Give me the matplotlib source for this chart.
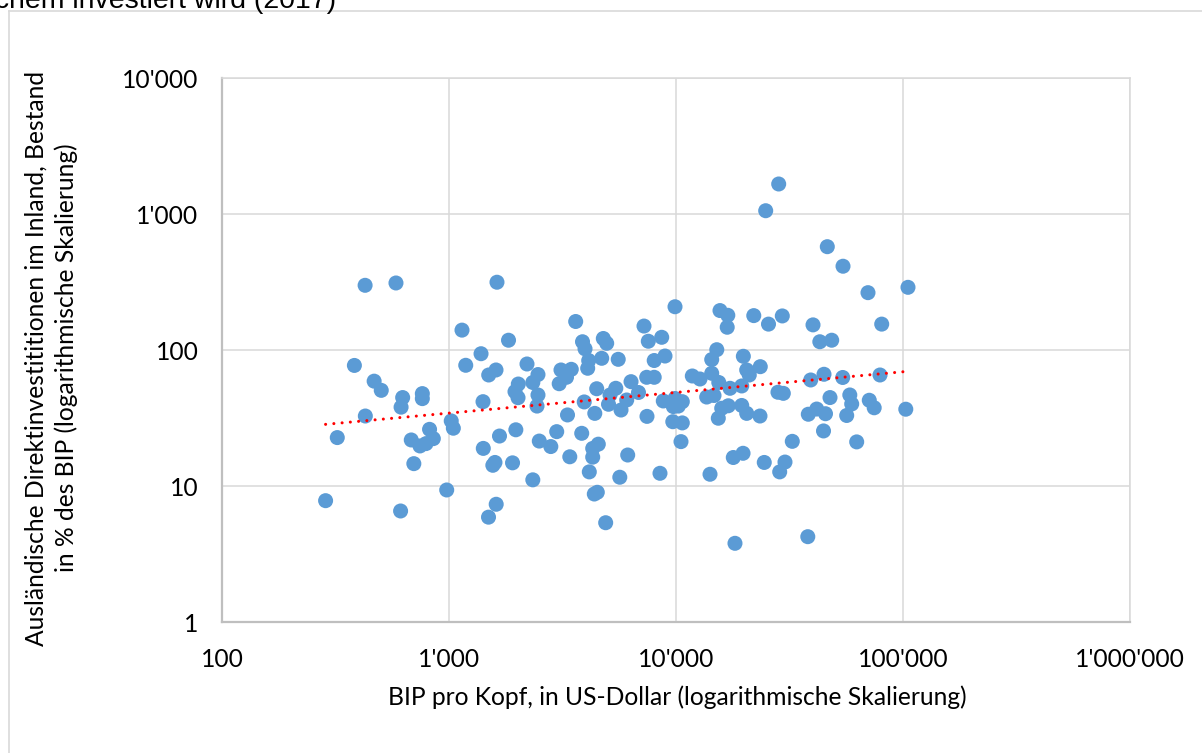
import matplotlib
matplotlib.use("Agg")
import matplotlib.pyplot as plt
from matplotlib.lines import Line2D
from matplotlib.ticker import NullLocator

# BIP pro Kopf (US-Dollar) und Bestand ausl. Direktinvestitionen (% des BIP), 2017
gdp_pc = [
    286, 322, 383, 427, 428, 468, 503, 584, 625, 615,
    763, 763, 682, 745, 792, 821, 853, 700, 612, 977,
    1023, 1045, 1141, 1185, 1384, 1496, 1611, 1412, 1416, 1560,
    1594, 1627, 1669, 1614, 1493, 1829, 2206, 2466, 2340, 2020,
    1953, 2014, 2466, 2442, 1970, 1905, 2340, 2499, 2809, 2982,
    3114, 3457, 3293, 3058, 3327, 3405, 3615, 3874, 3974, 4125,
    4083, 3942, 4388, 3843, 4296, 4547, 4296, 4150, 4366, 4501,
    4900, 4707, 4784, 4951, 4474, 5565, 5043, 5121, 5430, 5725,
    6127, 5655, 6337, 6836, 6066, 7228, 7551, 8650, 8017, 8944,
    7429, 8017, 7451, 8501, 9900, 8790, 9900, 10660, 9730, 10235,
    9680, 10660, 10520, 11800, 12756, 13653, 14705, 15625, 16913, 16810,
    15125, 14367, 14367, 15435, 17294, 19478, 19800, 22010, 25555, 29395,
    23510, 20487, 21030, 15358, 15900, 16998, 19478, 20487, 23440, 28135,
    29700, 40140, 43010, 48520, 39220, 44870, 54260, 79200, 47690, 58300,
    59430, 56490, 71030, 74660, 102870, 38270, 41680, 45560, 44650, 32530,
    62520, 14120, 17880, 19740, 24480, 28630, 30210, 18190, 38070, 80580,
    28340, 24840, 46400, 54420, 70110, 105200,
]
fdi_stock = [
    7.8, 22.7, 77, 299, 32.7, 59, 50.5, 311, 44.7, 38,
    47.8, 43.9, 21.8, 19.7, 20.5, 26.1, 22.3, 14.6, 6.55, 9.35,
    30.1, 26.6, 140, 77.2, 93.9, 65.5, 71.3, 41.7, 18.9, 14.2,
    14.9, 315, 23.3, 7.34, 5.9, 118, 78.9, 66.0, 57.7, 56.2,
    49.4, 44.6, 46.7, 38.7, 25.9, 14.8, 11.1, 21.4, 19.5, 25.1,
    71.3, 72.1, 63.0, 56.5, 33.3, 16.4, 162, 115, 102, 83.7,
    73.4, 41.5, 34.2, 24.4, 18.9, 20.3, 16.3, 12.7, 8.73, 8.99,
    5.37, 86.9, 121.5, 112, 51.9, 85.4, 39.9, 46.7, 52.3, 36.2,
    16.9, 11.6, 58.5, 48.7, 42.9, 150, 116, 124, 83.7, 90.3,
    63.0, 63.0, 32.5, 12.4, 208, 42.2, 44.0, 41.7, 38.4, 38.7,
    29.7, 29.1, 21.2, 64.4, 61.2, 45.1, 46.3, 195, 180, 147,
    100.5, 85.1, 67.4, 57.7, 52.3, 54.4, 89.9, 179, 155, 178,
    75.4, 71.3, 65.5, 31.5, 37.3, 38.9, 39.1, 34.2, 32.7, 48.9,
    48.0, 153, 115, 118, 60.2, 66.3, 62.8, 65.5, 44.7, 46.7,
    40.1, 33.0, 42.7, 37.6, 36.7, 33.7, 36.8, 34.0, 25.4, 21.3,
    21.1, 12.2, 16.2, 17.4, 14.9, 12.7, 15.0, 3.79, 4.24, 155,
    1662, 1057, 575, 413, 264, 289,
]

# Potenz-Trendlinie (Endpunkte)
trend_x = [286, 105200]
trend_y = [28.4, 69.7]

x_ticks = [100, 1000, 10000, 100000, 1000000]
x_labels = ["100", "1'000", "10'000", "100'000", "1'000'000"]
y_ticks = [1, 10, 100, 1000, 10000]
y_labels = ["1", "10", "100", "1'000", "10'000"]

W, H = 1202, 753
FONT = ["Lato", "DejaVu Sans"]
FS = 17.7
fig = plt.figure(figsize=(W / 100, H / 100), dpi=100)
ax = fig.add_axes([222 / W, 1 - 622 / H, 908 / W, 544 / H])

ax.scatter(gdp_pc, fdi_stock, s=117, color="#5B9BD5", edgecolors="none", zorder=3)
ax.plot(trend_x, trend_y, color="#FF0000", lw=2.2, ls=(0, (0.01, 2.7)),
        dash_capstyle="round", zorder=4)

ax.set_xscale("log"); ax.set_yscale("log")
ax.set_xlim(100, 1000000); ax.set_ylim(1, 10000)
ax.set_xticks(x_ticks, x_labels); ax.set_yticks(y_ticks, y_labels)
ax.xaxis.set_minor_locator(NullLocator()); ax.yaxis.set_minor_locator(NullLocator())
ax.tick_params(length=0, labelsize=FS, colors="#000000")
ax.tick_params(axis="y", pad=17); ax.tick_params(axis="x", pad=19)
for lab in ax.get_xticklabels() + ax.get_yticklabels():
    lab.set_family(FONT)
ax.grid(True, color="#D9D9D9", lw=1.1, zorder=0)
ax.set_axisbelow(True)
for s in ("left", "bottom"):
    ax.spines[s].set_color("#BFBFBF"); ax.spines[s].set_linewidth(1.6)
for s in ("top", "right"):
    ax.spines[s].set_color("#D9D9D9"); ax.spines[s].set_linewidth(1.1)

fig.text(677 / W, 1 - 697 / H, "BIP pro Kopf, in US-Dollar (logarithmische Skalierung)",
         ha="center", va="center", fontsize=FS, family=FONT)
fig.text(51 / W, 1 - 358 / H,
         "Ausländische Direktinvestititionen im Inland, Bestand\nin % des BIP (logarithmische Skalierung)",
         ha="center", va="center", rotation=90, fontsize=FS, family=FONT,
         linespacing=1.35, multialignment="center")

# abgeschnittener Titel und Rahmen des Diagrammbereichs
fig.text(336 / W, 1 - 8 / H, "in welchem investiert wird (2017)", ha="right", va="baseline",
         fontsize=20.5, family=["Liberation Sans", "DejaVu Sans"])
fig.add_artist(Line2D([9 / W, 9 / W], [0, 1 - 11 / H], color="#D9D9D9", lw=1.2))
fig.add_artist(Line2D([9 / W, 1], [1 - 11 / H, 1 - 11 / H], color="#D9D9D9", lw=1.2))

fig.savefig("out.png", dpi=100)
